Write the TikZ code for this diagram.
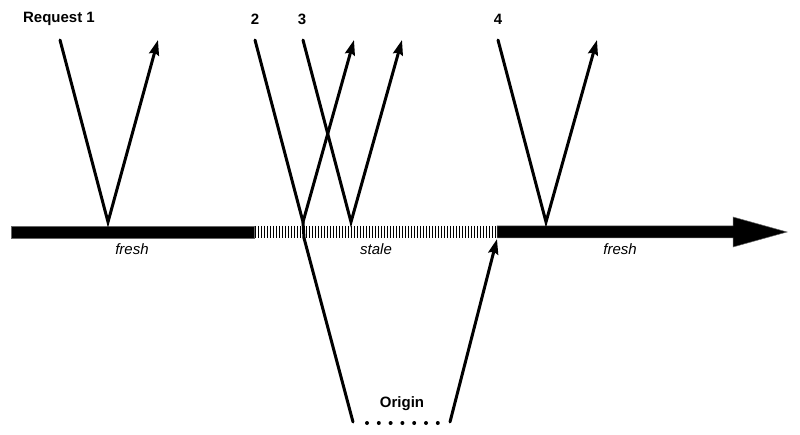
\documentclass[tikz,border=0pt]{standalone}
\usepackage{fontspec}
\setmainfont{Liberation Sans}
\usetikzlibrary{arrows.meta}
\begin{document}
\begin{tikzpicture}[x=1pt,y=-1pt,
  req/.style={line width=3pt,line cap=round,line join=miter},
  reqarr/.style={req,-{Stealth[length=15pt,width=10pt,inset=2pt]}},
  lbl/.style={font=\fontsize{15}{17}\selectfont\bfseries,inner sep=0pt},
  state/.style={font=\fontsize{15}{17}\selectfont\itshape,inner sep=0pt},
  barfill/.style={fill=black,draw=black!60,line width=0.5pt}]
\useasboundingbox (0,0) rectangle (800,435);
% timeline bar
\fill[barfill] (11,226) rectangle (254,238);
\foreach \x in {255.5,258.5,...,496} \draw[line width=1.6pt] (\x,226) -- (\x,238);
\fill[barfill] (497,226) -- (733,226) -- (733,217) -- (787,232) -- (733,247) -- (733,238) -- (497,238) -- cycle;
% labels
\node[lbl] (l1) at (59,19) {Request 1};
\node[lbl] (l2) at (255,19) {2};
\node[lbl] (l3) at (302,19) {3};
\node[lbl] (l4) at (498,19) {4};
\node[state] (s1) at (132,249) {fresh};
\node[state] (s2) at (376,249) {stale};
\node[state] (s3) at (620,249) {fresh};
\node[lbl] (org) at (402,404) {Origin};
% endpoints
\coordinate (a1) at (60,40);  \coordinate (v1) at (108,222); \coordinate (b1) at (158,40);
\coordinate (a2) at (255,40); \coordinate (v2) at (303,222); \coordinate (b2) at (354,40);
\coordinate (a3) at (303,40); \coordinate (v3) at (351,222); \coordinate (b3) at (402,40);
\coordinate (a4) at (498,40); \coordinate (v4) at (546,222); \coordinate (b4) at (597,40);
\coordinate (o1) at (304,238); \coordinate (o2) at (353,422);
\coordinate (o3) at (450,422); \coordinate (o4) at (497,239);
% requests
\draw[reqarr] (a1) -- (v1) -- (b1);
\draw[reqarr] (a2) -- (v2) -- (b2);
\draw[reqarr] (a3) -- (v3) -- (b3);
\draw[reqarr] (a4) -- (v4) -- (b4);
\draw[req] (v2) -- (o1);
\draw[req] (o1) -- (o2);
\draw[reqarr] (o3) -- (o4);
% dots
\foreach \i in {0,...,6} \fill (367+\i*11.8,423) circle (2);
\end{tikzpicture}
\end{document}
